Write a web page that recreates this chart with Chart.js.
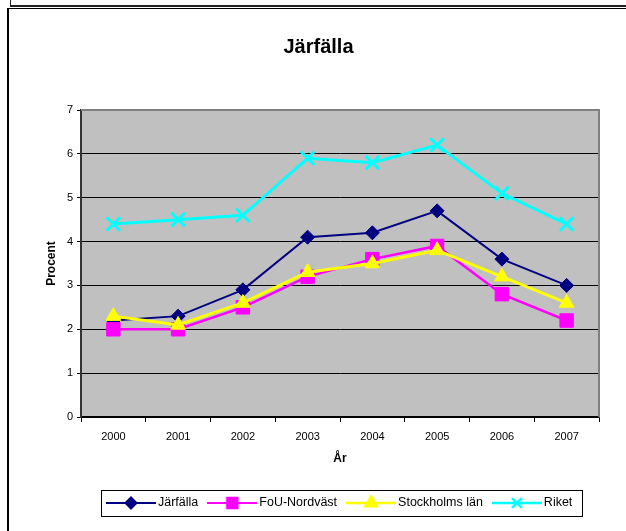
<!DOCTYPE html>
<html>
<head>
<meta charset="utf-8">
<script src="https://cdn.jsdelivr.net/npm/chart.js@4/dist/chart.umd.min.js"></script>
<style>
body { margin: 0; background: #fff; width: 626px; height: 531px; overflow: hidden; position: relative; }
#topbox { position: absolute; left: 10px; top: -10px; width: 700px; height: 14px; border: 1px solid #222; border-bottom-width: 2px; }
#frame { position: absolute; left: 7px; top: 8px; width: 700px; height: 600px; border: 1px solid #000; border-left-width: 2px; }
#wrap { position: absolute; left: 8px; top: 9px; width: 618px; height: 522px; }
</style>
</head>
<body>
<div id="topbox"></div>
<div id="frame"></div>
<div id="wrap"><canvas id="chart" width="618" height="522"></canvas></div>
<script>
const years = ['2000', '2001', '2002', '2003', '2004', '2005', '2006', '2007'];
const jarfalla = [2.2, 2.3, 2.9, 4.1, 4.2, 4.7, 3.6, 3.0];
const fouNordvast = [2.0, 2.0, 2.5, 3.2, 3.6, 3.9, 2.8, 2.2];
const stockholmsLan = [2.3, 2.1, 2.6, 3.3, 3.5, 3.8, 3.2, 2.6];
const riket = [4.4, 4.5, 4.6, 5.9, 5.8, 6.2, 5.1, 4.4];
const yMin = 0;
const yMax = 7;

Chart.defaults.font.family = "'Liberation Sans', Arial, sans-serif";
Chart.defaults.font.size = 11;
Chart.defaults.color = '#000';

const legendFont = 12.5;
const legendPad = 13.25;

// little line+marker pictures for the legend, like excel does it
const makeIcon = (color, style, radius, lw) => {
    const c = document.createElement('canvas');
    c.width = 50;
    c.height = 16;
    const g = c.getContext('2d');
    g.strokeStyle = color;
    g.fillStyle = color;
    g.lineWidth = lw;
    g.beginPath();
    g.moveTo(0, 8);
    g.lineTo(50, 8);
    g.stroke();
    Chart.helpers.drawPoint(g, {pointStyle: style, radius: radius, borderWidth: style === 'crossRot' ? 2.5 : 1}, 25, 8);
    return c;
}

const icons = [
    makeIcon('#000080', 'rectRot', 5.5, 2),
    makeIcon('#ff00ff', 'rect', 7.5, 2),
    makeIcon('#ffff00', 'triangle', 6.5, 2.5),
    makeIcon('#00ffff', 'crossRot', 7, 2.5)
];

const plotFrame = {
    id: 'plotFrame',
    afterLayout(chart) {
        // title and legend are not centred on the plot in the original
        chart.titleBlock.left += 15;
        chart.titleBlock.right += 15;
        const dx = 89 - chart.legend.left;
        chart.legend.left += dx;
        chart.legend.right += dx;
    },
    beforeDraw(chart) {
        const {ctx, chartArea: a} = chart;
        ctx.save();
        ctx.fillStyle = '#c0c0c0';
        ctx.fillRect(a.left, a.top, a.right - a.left, a.bottom - a.top);
        ctx.restore();
    },
    beforeDatasetsDraw(chart) {
        const {ctx, chartArea: a} = chart;
        ctx.save();
        ctx.strokeStyle = '#808080';
        ctx.lineWidth = 2;
        ctx.beginPath();
        ctx.moveTo(a.left, a.top);
        ctx.lineTo(a.right, a.top);
        ctx.lineTo(a.right, a.bottom);
        ctx.stroke();
        ctx.restore();
    },
    afterDraw(chart) {
        const hb = chart.legend.legendHitBoxes;
        if (!hb || !hb.length) return;
        const last = hb[hb.length - 1];
        const ctx = chart.ctx;
        const mid = hb[0].top + hb[0].height / 2;
        ctx.save();
        ctx.strokeStyle = '#000';
        ctx.lineWidth = 1;
        const left = Math.round(hb[0].left - 9) + 0.5;
        const right = Math.round(last.left + last.width + 10) + 0.5;
        const top = Math.round(mid - 13) + 0.5;
        ctx.strokeRect(left, top, right - left, 26);
        ctx.restore();
    }
};

const chart = new Chart(document.getElementById('chart'), {
    type: 'line',
    data: {
        labels: years,
        datasets: [{
            label: 'Järfälla',
            data: jarfalla,
            borderColor: '#000080',
            backgroundColor: '#000080',
            borderWidth: 2,
            pointStyle: 'rectRot',
            pointRadius: 7,
            pointBorderWidth: 1,
            order: 4
        }, {
            label: 'FoU-Nordväst',
            data: fouNordvast,
            borderColor: '#ff00ff',
            backgroundColor: '#ff00ff',
            borderWidth: 2.5,
            pointStyle: 'rect',
            pointRadius: 9.5,
            pointBorderWidth: 1,
            order: 3
        }, {
            label: 'Stockholms län',
            data: stockholmsLan,
            borderColor: '#ffff00',
            backgroundColor: '#ffff00',
            borderWidth: 3,
            pointStyle: 'triangle',
            pointRadius: 8.5,
            pointBorderWidth: 1,
            order: 2
        }, {
            label: 'Riket',
            data: riket,
            borderColor: '#00ffff',
            backgroundColor: '#00ffff',
            borderWidth: 3,
            pointStyle: 'crossRot',
            pointRadius: 9.5,
            pointBorderWidth: 3,
            order: 1
        }]
    },
    options: {
        responsive: false,
        animation: false,
        devicePixelRatio: 1,
        events: [],
        elements: {
            line: { tension: 0 }
        },
        layout: {
            padding: { left: 0, right: 27, top: 0, bottom: 11.75 }
        },
        plugins: {
            title: {
                display: true,
                text: 'Järfälla',
                font: { size: 20, weight: 'bold' },
                color: '#000',
                padding: { top: 26, bottom: 51 }
            },
            legend: {
                position: 'bottom',
                align: 'start',
                labels: {
                    usePointStyle: true,
                    pointStyleWidth: 41.5,
                    padding: legendPad,
                    color: '#000',
                    font: { size: legendFont },
                    generateLabels: (c) => Chart.defaults.plugins.legend.labels.generateLabels(c)
                        .sort((a, b) => a.datasetIndex - b.datasetIndex)
                        .map(item => {
                            item.pointStyle = icons[item.datasetIndex];
                            return item;
                        })
                }
            },
            tooltip: { enabled: false }
        },
        scales: {
            x: {
                offset: true,
                afterFit: (scale) => { scale.height = 66.5; },
                grid: {
                    display: true,
                    offset: true,
                    drawOnChartArea: false,
                    drawTicks: true,
                    tickLength: 5,
                    color: '#000'
                },
                border: { color: '#000', width: 1.5 },
                ticks: { padding: 8, color: '#000', maxRotation: 0 },
                title: {
                    display: true,
                    text: 'År',
                    font: { size: 12, weight: 'bold' },
                    padding: { top: 0, bottom: 17.3 }
                }
            },
            y: {
                min: yMin,
                max: yMax,
                afterFit: (scale) => { scale.width = 73; },
                grid: {
                    color: (ctx) => ctx.tick && ctx.tick.value === yMax ? 'rgba(0,0,0,0)' : '#000',
                    tickColor: '#000',
                    tickLength: 4,
                    lineWidth: 1
                },
                border: { color: '#333', width: 2 },
                ticks: { stepSize: 1, padding: 4, color: '#000' },
                title: {
                    display: true,
                    text: 'Procent',
                    font: { size: 12, weight: 'bold' },
                    padding: { top: 36.8, bottom: 0 }
                }
            }
        }
    },
    plugins: [plotFrame]
});
</script>
</body>
</html>
